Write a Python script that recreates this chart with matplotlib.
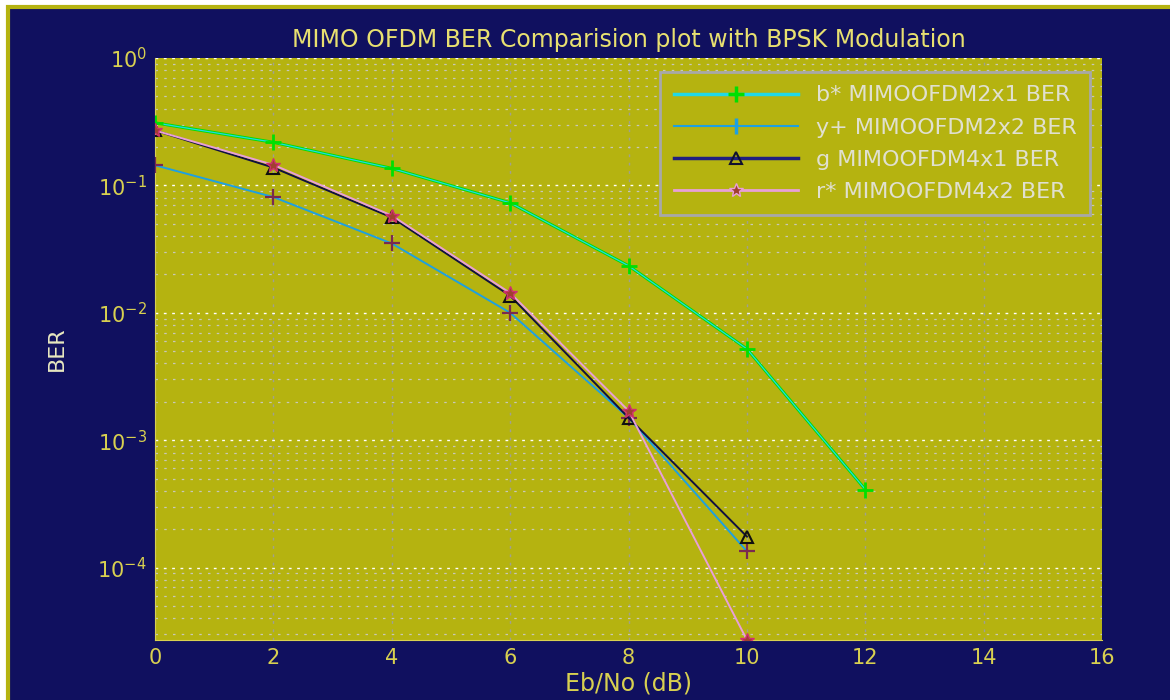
import matplotlib
matplotlib.use("Agg")
import matplotlib.pyplot as plt
from matplotlib.patches import Rectangle
from matplotlib.lines import Line2D

# values
snr_db = [0, 2, 4, 6, 8, 10, 12]
ber_2x1 = [0.31, 0.218, 0.136, 0.073, 0.0234, 0.0052, 4.1e-4]
ber_2x2 = [0.144, 0.081, 0.035, 0.0100, 0.0015, 1.34e-4]
ber_4x1 = [0.27, 0.138, 0.056, 0.0136, 0.0015, 1.75e-4]
ber_4x2 = [0.27, 0.145, 0.058, 0.0143, 0.0017, 2.7e-5]

labels = ["b* MIMOOFDM2x1 BER", "y+ MIMOOFDM2x2 BER",
          "g MIMOOFDM4x1 BER", "r* MIMOOFDM4x2 BER"]

NAVY = "#10105f"
OLIVE = "#b5b310"
TICK = "#d8d050"

fig = plt.figure(figsize=(11.7, 7), dpi=100)
fig.patch.set_facecolor("white")
fig.patches.append(Rectangle((0.007, -0.01), 1.0, 1.0, transform=fig.transFigure,
                             facecolor=NAVY, edgecolor=OLIVE, linewidth=3, zorder=-1))

ax = fig.add_axes([0.1325, 0.0857, 0.8095, 0.8314])
ax.set_facecolor(OLIVE)

x1 = snr_db[:len(ber_2x1)]
x2 = snr_db[:len(ber_2x2)]
x3 = snr_db[:len(ber_4x1)]
x4 = snr_db[:len(ber_4x2)]

ax.plot(x1, ber_2x1, color="#00e000", linewidth=2.2, zorder=3)
ax.plot(x1, ber_2x1, color="#20d8e8", linewidth=0.9, marker="+", markersize=11,
        markeredgecolor="#00e000", markeredgewidth=2, zorder=4)
ax.plot(x2, ber_2x2, color="#1ea0e0", linewidth=1.4, marker="+", markersize=12,
        markeredgecolor="#7a2a50", markeredgewidth=1.6, zorder=4)
ax.plot(x3, ber_4x1, color="#101040", linewidth=1.4, marker="^", markersize=9,
        markerfacecolor="none", markeredgecolor="#101010", markeredgewidth=1.5, zorder=5)
ax.plot(x4, ber_4x2, color="#e8a0d8", linewidth=1.4, marker="*", markersize=10,
        markerfacecolor="#a04030", markeredgecolor="#d03070", zorder=6)

ax.set_yscale("log")
ax.set_xlim(0, 16)
ax.set_ylim(2.7e-5, 1)
ax.set_xticks(range(0, 17, 2))
ax.set_yticks([1, 1e-1, 1e-2, 1e-3, 1e-4])

ax.grid(True, which="major", axis="x", color="#a0a090", linestyle=(0, (2, 4)), linewidth=1)
ax.grid(True, which="major", axis="y", color="white", linestyle=(0, (2, 4)), linewidth=1)
ax.grid(True, which="minor", axis="y", color="#c8c8b8", linestyle=(0, (2, 5)), linewidth=0.9)

for s in ax.spines.values():
    s.set_color(TICK)
ax.spines["top"].set_visible(False)
ax.spines["right"].set_visible(False)
ax.tick_params(colors=TICK, labelsize=15, length=0, which="both", pad=6)

ax.set_title("MIMO OFDM BER Comparision plot with BPSK Modulation",
             color="#e8e070", fontsize=17, pad=8)
ax.set_xlabel("Eb/No (dB)", color=TICK, fontsize=17, labelpad=2)
ax.set_ylabel("BER", color="#e8e8c0", fontsize=16, labelpad=22)

handles = [
    Line2D([], [], color="#20d8e8", linewidth=2.5, marker="+", markersize=11,
           markeredgecolor="#00e000", markeredgewidth=2.5),
    Line2D([], [], color="#1ea0e0", linewidth=1.5, marker="|", markersize=12,
           markeredgecolor="#1ea0e0", markeredgewidth=2.5),
    Line2D([], [], color="#202080", linewidth=2.5, marker="^", markersize=9,
           markerfacecolor="none", markeredgecolor="#101030", markeredgewidth=1.5),
    Line2D([], [], color="#e8a0d8", linewidth=2, marker="*", markersize=10,
           markerfacecolor="#a04030", markeredgecolor="#e8a0d8"),
]
leg = ax.legend(handles, labels, loc="upper right", bbox_to_anchor=(0.987, 0.976),
                borderaxespad=0, fontsize=16, facecolor=OLIVE, edgecolor="#a8a8a8",
                framealpha=1, fancybox=False, handlelength=5.6, borderpad=0.6,
                labelspacing=0.55)
leg.get_frame().set_linewidth(2)
for t in leg.get_texts():
    t.set_color("#e0e0d0")

fig.savefig("out.png", dpi=100, facecolor=fig.get_facecolor())
